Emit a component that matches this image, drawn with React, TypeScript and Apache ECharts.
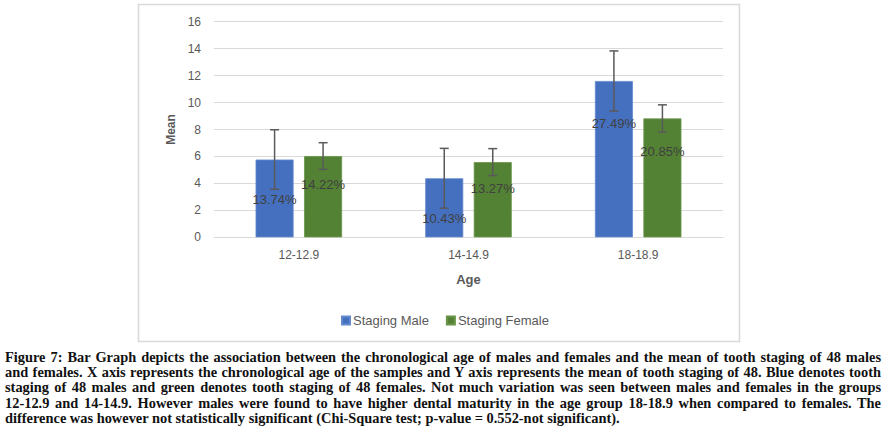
import React, { useEffect, useRef } from "react";
import * as echarts from "echarts";

const categories = ["12-12.9", "14-14.9", "18-18.9"];
const maleMean = [5.77, 4.38, 11.6];
const femaleMean = [6.03, 5.58, 8.82];
const maleSd = [2.21, 2.22, 2.23];
const femaleSd = [0.99, 1.0, 1.01];
const malePct = ["13.74%", "10.43%", "27.49%"];
const femalePct = ["14.22%", "13.27%", "20.85%"];
const maleLabelAt = [2.77, 1.36, 8.41];
const femaleLabelAt = [3.93, 3.64, 6.4];
const yTicks = { min: 0, max: 16, interval: 2 };

const captionLines = [
  "Figure 7: Bar Graph depicts the association between the chronological age of males and females and the mean of tooth staging of 48 males",
  "and females. X axis represents the chronological age of the samples and Y axis represents the mean of tooth staging of 48. Blue denotes tooth",
  "staging of 48 males and green denotes tooth staging of 48 females. Not much variation was seen between males and females in the groups",
  "12-12.9 and 14-14.9. However males were found to have higher dental maturity in the age group 18-18.9 when compared to females. The",
  "difference was however not statistically significant (Chi-Square test; p-value = 0.552-not significant).",
];

const BAR_W = 0.224;
const BAR_GAP = 0.276;
const FONT = "'Liberation Sans', Arial, sans-serif";

function errorSeries(name: string, means: number[], sds: number[], labelAt: number[], pct: string[], side: number) {
  return {
    type: "custom",
    id: name,
    z: 5,
    silent: true,
    data: means.map((m, i) => [i, m, sds[i], labelAt[i], pct[i]]),
    encode: { x: 0, y: 1 },
    renderItem: (params: any, api: any) => {
      const idx = api.value(0);
      const mean = api.value(1);
      const sd = api.value(2);
      const la = api.value(3);
      const text = pct[params.dataIndex];
      const band = api.size([1, 0])[0];
      const bw = band * BAR_W;
      const off = side * (bw + bw * BAR_GAP) / 2;
      const c = api.coord([idx, mean]);
      const x = c[0] + off;
      const yTop = api.coord([idx, mean + sd])[1];
      const yBot = api.coord([idx, mean - sd])[1];
      const yLab = api.coord([idx, la])[1];
      const ls = { stroke: "#5a5a5a", lineWidth: 1.5 };
      const cap = 4.5;
      return {
        type: "group",
        children: [
          { type: "line", shape: { x1: x, y1: yTop, x2: x, y2: yBot }, style: ls },
          { type: "line", shape: { x1: x - cap, y1: yTop, x2: x + cap, y2: yTop }, style: ls },
          { type: "line", shape: { x1: x - cap, y1: yBot, x2: x + cap, y2: yBot }, style: ls },
          {
            type: "text",
            style: {
              text,
              x,
              y: yLab,
              align: "center",
              verticalAlign: "middle",
              fill: "#404040",
              font: "13px " + FONT,
            },
          },
        ],
      };
    },
  };
}

export default function App() {
  const ref = useRef<HTMLDivElement>(null);
  useEffect(() => {
    if (!ref.current) return;
    const chart = echarts.init(ref.current, null, { renderer: "svg" });
    chart.setOption({
      animation: false,
      backgroundColor: "#ffffff",
      textStyle: { fontFamily: FONT },
      graphic: [
        {
          type: "rect",
          z: -10,
          shape: { x: 138.5, y: 4.5, width: 601, height: 337 },
          style: { fill: "#ffffff", stroke: "#d9d9d9", lineWidth: 1.6 },
        },
      ],
      legend: {
        data: ["Staging Male", "Staging Female"],
        left: 336,
        top: 309,
        itemWidth: 8,
        itemHeight: 8,
        itemGap: 17,
        icon: "rect",
        textStyle: { color: "#595959", fontSize: 13, fontFamily: FONT, padding: [0, 0, 0, -2] },
      },
      grid: { left: 214, right: 167, top: 21.7, bottom: 196.7 },
      xAxis: {
        type: "category",
        data: categories,
        axisLine: { lineStyle: { color: "#d9d9d9", width: 1 } },
        axisTick: { show: false },
        axisLabel: { color: "#595959", fontSize: 12, margin: 12 },
        name: "Age",
        nameLocation: "middle",
        nameGap: 36,
        nameTextStyle: { color: "#595959", fontSize: 13, fontWeight: "bold" },
      },
      yAxis: {
        type: "value",
        min: yTicks.min,
        max: yTicks.max,
        interval: yTicks.interval,
        axisLine: { show: false },
        axisTick: { show: false },
        axisLabel: { color: "#595959", fontSize: 12, margin: 13 },
        splitLine: { lineStyle: { color: "#d9d9d9", width: 1 } },
        name: "Mean",
        nameLocation: "middle",
        nameRotate: 90,
        nameGap: 34,
        nameTextStyle: { color: "#595959", fontSize: 12, fontWeight: "bold" },
      },
      series: [
        {
          name: "Staging Male",
          type: "bar",
          data: maleMean,
          barWidth: BAR_W * 100 + "%",
          barGap: BAR_GAP * 100 + "%",
          itemStyle: { color: "#4570bf", borderColor: "#6389cf", borderWidth: 0.8 },
        },
        {
          name: "Staging Female",
          type: "bar",
          data: femaleMean,
          barWidth: BAR_W * 100 + "%",
          barGap: BAR_GAP * 100 + "%",
          itemStyle: { color: "#548235", borderColor: "#6a9449", borderWidth: 0.8 },
        },
        errorSeries("errMale", maleMean, maleSd, maleLabelAt, malePct, -1),
        errorSeries("errFemale", femaleMean, femaleSd, femaleLabelAt, femalePct, 1),
      ],
    });
    return () => chart.dispose();
  }, []);

  return (
    <div style={{ position: "absolute", left: 0, top: 0, width: 890, height: 434, background: "#fff", overflow: "hidden" }}>
      <div ref={ref} style={{ position: "absolute", left: 0, top: 0, width: 890, height: 434 }} />
      <div
        style={{
          position: "absolute",
          left: 5,
          top: 350,
          width: 876,
          fontFamily: "'Liberation Serif', 'Times New Roman', serif",
          fontWeight: "bold",
          fontSize: 14.4,
          lineHeight: "15.2px",
          color: "#111",
        }}
      >
        {captionLines.map((line, i) => (
          <div
            key={i}
            style={{
              whiteSpace: "nowrap",
              textAlign: i < captionLines.length - 1 ? "justify" : "left",
              textAlignLast: i < captionLines.length - 1 ? "justify" : "left",
            }}
          >
            {line}
          </div>
        ))}
      </div>
    </div>
  );
}
